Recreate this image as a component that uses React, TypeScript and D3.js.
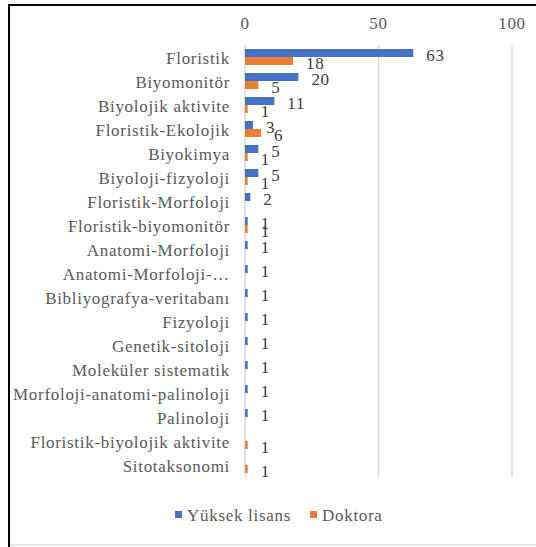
import React from "react";
import * as d3 from "d3";

const categories = [
  "Floristik",
  "Biyomonitör",
  "Biyolojik aktivite",
  "Floristik-Ekolojik",
  "Biyokimya",
  "Biyoloji-fizyoloji",
  "Floristik-Morfoloji",
  "Floristik-biyomonitör",
  "Anatomi-Morfoloji",
  "Anatomi-Morfoloji-…",
  "Bibliyografya-veritabanı",
  "Fizyoloji",
  "Genetik-sitoloji",
  "Moleküler sistematik",
  "Morfoloji-anatomi-palinoloji",
  "Palinoloji",
  "Floristik-biyolojik aktivite",
  "Sitotaksonomi",
];
const yuksekLisans: (number | null)[] = [63, 20, 11, 3, 5, 5, 2, 1, 1, 1, 1, 1, 1, 1, 1, 1, null, null];
const doktora: (number | null)[] = [18, 5, 1, 6, 1, 1, null, 1, null, null, null, null, null, null, null, null, 1, 1];
const xTicks = [0, 50, 100];
const seriesNames = ["Yüksek lisans", "Doktora"];
const seriesColors = ["#4472C4", "#ED7D31"];

const W = 536;
const H = 547;
const txt: React.CSSProperties = {
  fontFamily: '"Liberation Serif", "Times New Roman", "DejaVu Serif", serif',
  fontSize: "17px",
  letterSpacing: "0.7px",
};

export default function App() {
  const x = d3.scaleLinear().domain([0, 100]).range([245, 512]);
  const y = d3.scaleBand<string>().domain(categories).range([45, 477]).paddingInner(0).paddingOuter(0);
  const inner = d3.scaleBand<number>().domain([0, 1]).range([0, y.bandwidth()]).paddingInner(0).paddingOuter(0.5);
  const series = [yuksekLisans, doktora];

  return (
    <svg width={W} height={H} style={{ position: "absolute", left: 0, top: 0 }}>
      <rect x={0} y={0} width={W} height={H} fill="#fff" />
      {/* frame */}
      <line x1={9} y1={4} x2={9} y2={H} stroke="#000" strokeWidth={2} />
      <line x1={8} y1={5} x2={W} y2={5} stroke="#000" strokeWidth={2} />
      <line x1={10} y1={545} x2={W} y2={545} stroke="#d9d9d9" strokeWidth={1.5} />

      {/* gridlines */}
      {xTicks.map((t) => (
        <line key={t} x1={x(t)} x2={x(t)} y1={45} y2={477} stroke="#d9d9d9" strokeWidth={1.5} />
      ))}
      {xTicks.map((t) => (
        <text key={"t" + t} x={x(t)} y={23} textAnchor="middle" dominantBaseline="central" style={txt} fill="#595959">
          {t}
        </text>
      ))}

      {/* category labels */}
      {categories.map((c) => (
        <text key={c} x={230} y={(y(c) as number) + y.bandwidth() / 2 + 1} textAnchor="end" dominantBaseline="central" style={txt} fill="#595959">
          {c}
        </text>
      ))}

      {/* bars */}
      {series.map((vals, si) =>
        vals.map((v, i) => {
          if (v == null) return null;
          const yy = (y(categories[i]) as number) + (inner(si) as number);
          return (
            <rect key={si + "-" + i} x={x(0)} y={yy} width={x(v) - x(0)} height={inner.bandwidth()} fill={seriesColors[si]} />
          );
        })
      )}

      {/* value labels */}
      {series.map((vals, si) =>
        vals.map((v, i) => {
          if (v == null) return null;
          const yc = (y(categories[i]) as number) + (inner(si) as number) + inner.bandwidth() / 2 + 2;
          return (
            <text key={"l" + si + "-" + i} x={x(v) + 13} y={yc} dominantBaseline="central" style={txt} fill="#404040">
              {v}
            </text>
          );
        })
      )}

      {/* legend */}
      <rect x={175} y={511} width={7} height={7} fill={seriesColors[0]} />
      <text x={187} y={515} dominantBaseline="central" style={txt} fill="#595959">{seriesNames[0]}</text>
      <rect x={310} y={511} width={7} height={7} fill={seriesColors[1]} />
      <text x={322} y={515} dominantBaseline="central" style={txt} fill="#595959">{seriesNames[1]}</text>
    </svg>
  );
}
